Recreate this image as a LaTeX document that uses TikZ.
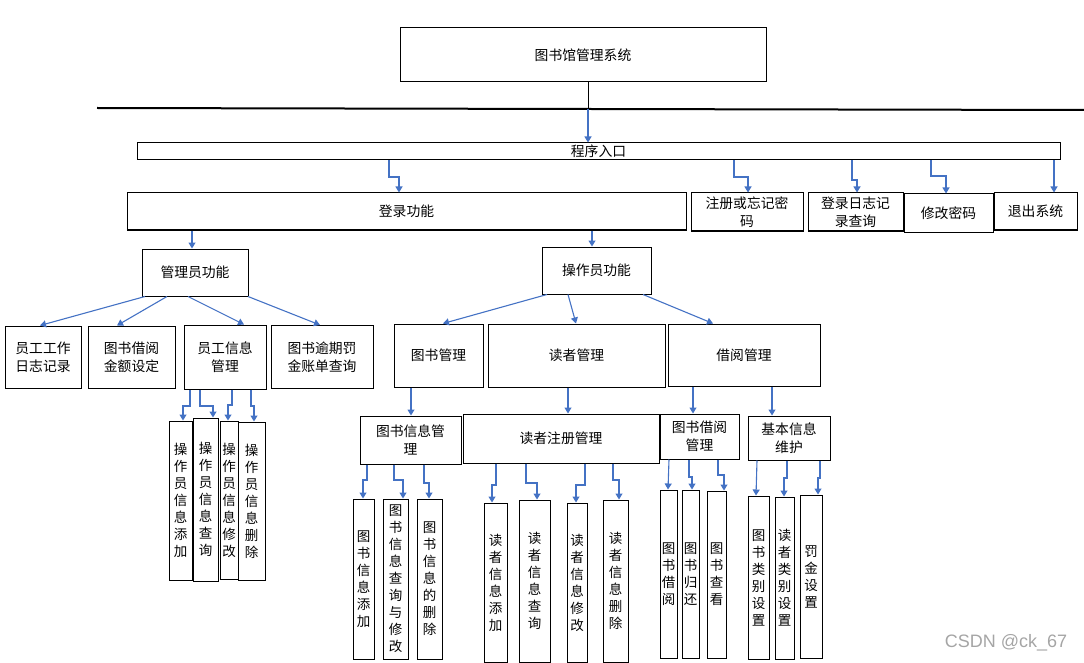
\documentclass[tikz,border=0pt]{standalone}
\usepackage{fontspec}
\setmainfont{Noto Sans CJK SC}
\newfontfamily\markfont{Liberation Sans}
\usepackage{tikz}
\usetikzlibrary{arrows.meta}
\definecolor{linkblue}{RGB}{68,114,196}
\definecolor{markgrey}{RGB}{165,165,165}

\begin{document}
\begin{tikzpicture}[x=1pt, y=-1pt,
    box/.style={rectangle, draw=black, line width=1pt, inner sep=0pt, align=center,
                font=\fontsize{13.8pt}{18pt}\selectfont},
    vbox/.style={box, font=\fontsize{13.5pt}{17pt}\selectfont},
    link/.style={draw=linkblue, line width=1.1pt, -{Triangle[length=6pt,width=7pt]}},
]
    \useasboundingbox (0,0) rectangle (1084,663);

    % Top level
    \node[box, minimum width=366pt, minimum height=54pt] (sys) at (583,55) {图书馆管理系统};
    \node[box, minimum width=923pt, minimum height=17pt] (entry) at (598.5,151.5) {程序入口};

    % Second row
    \node[box, minimum width=559pt, minimum height=37pt] (login) at (406.5,211.5) {登录功能};
    \node[box, minimum width=112pt, minimum height=38pt] (reg) at (747,212) {注册或忘记密\\码};
    \node[box, minimum width=95pt, minimum height=38pt] (logq) at (855.5,212) {登录日志记\\录查询};
    \node[box, minimum width=89pt, minimum height=38pt] (pwd) at (948.5,213) {修改密码};
    \node[box, minimum width=83pt, minimum height=37pt] (quit) at (1035.5,211.5) {退出系统};

    % Admin and operator
    \node[box, minimum width=106pt, minimum height=47pt] (admin) at (195,272.5) {管理员功能};
    \node[box, minimum width=109pt, minimum height=47pt] (oper) at (596.5,270.5) {操作员功能};

    % Admin functions
    \node[box, minimum width=76pt, minimum height=62pt] (staff) at (43,357) {员工工作\\日志记录};
    \node[box, minimum width=87pt, minimum height=62pt] (fee) at (131.5,357) {图书借阅\\金额设定};
    \node[box, minimum width=82pt, minimum height=64pt] (staffinfo) at (225,357) {员工信息\\管理};
    \node[box, minimum width=102pt, minimum height=63pt] (overdue) at (322,357) {图书逾期罚\\金账单查询};

    % Operator functions
    \node[box, minimum width=89pt, minimum height=63pt] (bookm) at (438.5,355.5) {图书管理};
    \node[box, minimum width=177pt, minimum height=63pt] (readm) at (576.5,355.5) {读者管理};
    \node[box, minimum width=152pt, minimum height=62pt] (lendm) at (744,355) {借阅管理};

    % Fourth row
    \node[box, minimum width=101pt, minimum height=48pt] (binfo) at (410.5,440) {图书信息管\\理};
    \node[box, minimum width=196pt, minimum height=49pt] (rreg) at (561,438.5) {读者注册管理};
    \node[box, minimum width=79pt, minimum height=45pt] (blend) at (699.5,436.5) {图书借阅\\管理};
    \node[box, minimum width=82pt, minimum height=44pt] (basic) at (789,438) {基本信息\\维护};

    % Staff info leaves
    \node[vbox, minimum width=23pt, minimum height=159pt] (opadd) at (180.5,500.5) {操\\作\\员\\信\\息\\添\\加};
    \node[vbox, minimum width=25pt, minimum height=163pt] (opq) at (205.5,499.5) {操\\作\\员\\信\\息\\查\\询};
    \node[vbox, minimum width=18pt, minimum height=158pt] (opmod) at (229,500) {操\\作\\员\\信\\息\\修\\改};
    \node[vbox, minimum width=27pt, minimum height=158pt] (opdel) at (251.5,501) {操\\作\\员\\信\\息\\删\\除};

    % Book info leaves
    \node[vbox, minimum width=21pt, minimum height=160pt] (badd) at (363.5,579) {图\\书\\信\\息\\添\\加};
    \node[vbox, minimum width=25pt, minimum height=160pt] (bqm) at (395.5,579) {图\\书\\信\\息\\查\\询\\与\\修\\改};
    \node[vbox, minimum width=25pt, minimum height=160pt] (bdel) at (429.5,579) {图\\书\\信\\息\\的\\删\\除};

    % Reader leaves
    \node[vbox, minimum width=23pt, minimum height=159pt] (radd) at (495.5,582.5) {读\\者\\信\\息\\添\\加};
    \node[vbox, minimum width=31pt, minimum height=162pt] (rq) at (534.5,581) {读\\者\\信\\息\\查\\询};
    \node[vbox, minimum width=20pt, minimum height=159pt] (rmod) at (577,582.5) {读\\者\\信\\息\\修\\改};
    \node[vbox, minimum width=25pt, minimum height=162pt] (rdel) at (615.5,581) {读\\者\\信\\息\\删\\除};

    % Lending leaves
    \node[vbox, minimum width=17pt, minimum height=168pt] (lb) at (668.5,574) {图\\书\\借\\阅};
    \node[vbox, minimum width=17pt, minimum height=168pt] (lr) at (690.5,574) {图\\书\\归\\还};
    \node[vbox, minimum width=19pt, minimum height=167pt] (lv) at (716.5,574.5) {图\\书\\查\\看};

    % Basic info leaves
    \node[vbox, minimum width=21pt, minimum height=163pt] (cbook) at (758.5,577.5) {图\\书\\类\\别\\设\\置};
    \node[vbox, minimum width=19pt, minimum height=162pt] (creader) at (784.5,578) {读\\者\\类\\别\\设\\置};
    \node[vbox, minimum width=22pt, minimum height=163pt] (fine) at (811,576.5) {罚\\金\\设\\置};

    % Watermark
    \node[font=\markfont\fontsize{18pt}{20pt}\selectfont, text=markgrey] (mark) at (1006,643) {CSDN @ck\_67};

    % Divider and entry link
    \coordinate (hl) at (97,108);
    \coordinate (hr) at (1084,110);
    \coordinate (j) at (588,109);
    \draw[line width=2pt] (hl) -- (hr);
    \draw[line width=1pt] (588,0 |- sys.south) -- (j);
    \draw[link] (j) -- (j |- entry.north);

    % Entry to second row
    \draw[link] (389,0 |- entry.south) |- (399,177) -- (399,0 |- login.north);
    \draw[link] (734,0 |- entry.south) |- (748,177) -- (748,0 |- reg.north);
    \draw[link] (852,0 |- entry.south) |- (857,180) -- (857,0 |- logq.north);
    \draw[link] (931,0 |- entry.south) |- (946,176) -- (946,0 |- pwd.north);
    \draw[link] (1054,0 |- entry.south) -- (1054,0 |- quit.north);

    % Login to roles
    \draw[link] (192,0 |- login.south) -- (192,0 |- admin.north);
    \draw[link] (592,0 |- login.south) -- (592,0 |- oper.north);

    % Admin fan-out
    \draw[link] (145,0 |- admin.south) -- (40,0 |- staff.north);
    \draw[link] (167,0 |- admin.south) -- (117,0 |- fee.north);
    \draw[link] (188,0 |- admin.south) -- (244,0 |- staffinfo.north);
    \draw[link] (248,0 |- admin.south) -- (320,0 |- overdue.north);

    % Operator fan-out
    \draw[link] (547,0 |- oper.south) -- (443,0 |- bookm.north);
    \draw[link] (568,0 |- oper.south) -- (576,0 |- readm.north);
    \draw[link] (643,0 |- oper.south) -- (713,0 |- lendm.north);

    % Third to fourth row
    \draw[link] (411,0 |- bookm.south) -- (411,0 |- binfo.north);
    \draw[link] (568,0 |- readm.south) -- (568,0 |- rreg.north);
    \draw[link] (693,0 |- lendm.south) -- (693,0 |- blend.north);
    \draw[link] (772,0 |- lendm.south) -- (772,0 |- basic.north);

    % Staff info to leaves
    \draw[link] (190,0 |- staffinfo.south) |- (183,406) -- (183,0 |- opadd.north);
    \draw[link] (200,0 |- staffinfo.south) |- (213,406) -- (213,0 |- opq.north);
    \draw[link] (232,0 |- staffinfo.south) |- (228,405) -- (228,0 |- opmod.north);
    \draw[link] (251,0 |- staffinfo.south) |- (254,406) -- (254,0 |- opdel.north);

    % Book info to leaves
    \draw[link] (367,0 |- binfo.south) |- (363,480) -- (363,0 |- badd.north);
    \draw[link] (394,0 |- binfo.south) |- (403,480) -- (403,0 |- bqm.north);
    \draw[link] (424,0 |- binfo.south) |- (429,483) -- (429,0 |- bdel.north);

    % Reader registration to leaves
    \draw[link] (496,0 |- rreg.south) |- (492,485) -- (492,0 |- radd.north);
    \draw[link] (526,0 |- rreg.south) |- (537,483) -- (537,0 |- rq.north);
    \draw[link] (585,0 |- rreg.south) |- (576,485) -- (576,0 |- rmod.north);
    \draw[link] (613,0 |- rreg.south) |- (619,480) -- (619,0 |- rdel.north);

    % Lending to leaves
    \draw[link] (669,0 |- blend.south) -- (668,0 |- lb.north);
    \draw[link] (689,0 |- blend.south) |- (692,477) -- (692,0 |- lr.north);
    \draw[link] (718,0 |- blend.south) |- (724,475) -- (724,0 |- lv.north);

    % Basic info to leaves
    \draw[link] (757,0 |- basic.south) -- (756,0 |- cbook.north);
    \draw[link] (787,0 |- basic.south) |- (784,478) -- (784,0 |- creader.north);
    \draw[link] (820,0 |- basic.south) |- (818,478) -- (818,0 |- fine.north);
\end{tikzpicture}
\end{document}
